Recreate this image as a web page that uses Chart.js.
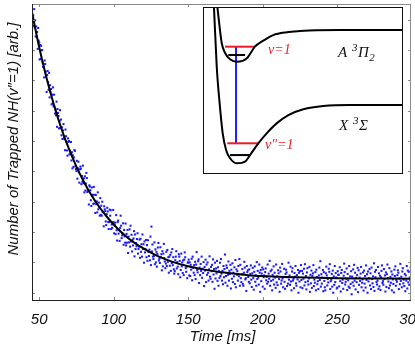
<!DOCTYPE html>
<html><head><meta charset="utf-8">
<script src="https://cdn.jsdelivr.net/npm/chart.js@4.4.1/dist/chart.umd.min.js"></script>
<style>
html,body{margin:0;padding:0;background:#fff;}
#wrap{position:relative;width:415px;height:348px;overflow:hidden;}
#main{position:absolute;left:0;top:0;}
#insetBox{position:absolute;left:203px;top:7px;width:200px;height:167px;border:1px solid #111;background:#fff;box-sizing:border-box;}
#inset{position:absolute;left:0;top:0;}
.lbl{position:absolute;font-family:"Liberation Serif",serif;font-style:italic;line-height:1;white-space:nowrap;}
.red{color:#e8202a;font-size:14px;}
.blk{color:#111;font-size:15px;letter-spacing:0.5px;}
.lbl sup,.lbl sub{font-size:11px;line-height:0;}
</style></head>
<body><div id="wrap">
<canvas id="main" width="415" height="348"></canvas>
<div id="insetBox"><canvas id="inset" width="198" height="165"></canvas></div>
<div class="lbl red" style="left:268px;top:43px;">v=1</div>
<div class="lbl red" style="left:265px;top:138px;">v″=1</div>
<div class="lbl blk" style="left:338px;top:45px;">A&nbsp;<sup>3</sup>Π<sub>2</sub></div>
<div class="lbl blk" style="left:339px;top:118px;">X&nbsp;<sup>3</sup>Σ</div>
</div>
<script>
// ---- data ----
const xTickValues = [50, 100, 150, 200, 250, 300];
const yTickValues = [0, 1, 2, 3, 4, 5, 6, 7, 8, 9];
const samplesPerMs = 3;
const windowStartMs = [46, 101, 151, 201, 251];
const trappedEarly = [9.14,8.80,9.35, 8.74,8.98,8.45, 8.78,8.43,8.60, 8.04,8.73,8.31, 8.25,7.69,8.17, 7.71,8.14,8.00, 8.00,7.59,7.45, 7.44,7.10,7.66, 7.54,7.29,7.12, 6.62,7.18,7.31, 6.94,6.69,7.25, 6.44,6.84,6.61, 6.72,6.21,6.53, 6.24,6.77,6.15, 6.53,6.13,5.91, 6.03,5.85,6.30, 5.47,6.06,5.93, 5.83,5.42,5.66, 6.02,5.43,5.71, 5.19,5.45,5.07, 5.35,5.56,5.11, 5.06,4.70,5.38, 5.16,4.98,4.69, 4.52,5.09,4.97, 5.00,4.56,4.68, 4.59,4.97,4.36, 4.63,4.10,4.53, 4.15,4.46,4.70, 4.68,4.17,4.08, 4.01,4.35,3.76, 4.10,4.32,3.97, 3.63,4.07,4.16, 4.09,3.58,3.85, 3.66,4.19,3.61, 3.77,3.31,3.84, 3.37,3.60,3.95, 3.78,3.32,3.37, 3.35,2.91,3.54, 3.50,3.38,3.05, 2.86,3.47,3.19, 3.23,2.93,3.49, 2.94,3.23,2.63, 3.22,2.92,3.01, 2.65,3.31,2.75, 2.97,2.82,2.54, 3.12,2.57,2.87, 2.54,3.00,2.67, 2.66,2.19,2.85, 2.75,2.69,2.35, 2.23,2.59,2.80, 2.68,2.33,2.10, 2.33,2.74,2.54, 2.72,2.10,2.25, 2.14,2.32,2.73, 2.32,1.96,2.24];
const trappedMid = [2.31,1.93,2.56, 2.06,1.72,2.33, 2.38,1.95,2.06, 1.71,2.14,2.54, 2.21,1.80,1.89, 1.95,2.29,1.58, 2.07,1.86,1.65, 2.28,1.56,1.94, 1.65,2.07,1.31, 1.85,1.66,2.09, 1.52,2.21,1.69, 1.91,1.36,1.74, 1.56,1.79,2.03, 1.20,1.92,1.44, 1.64,1.53,1.77, 1.96,1.29,1.44, 1.52,1.75,1.15, 1.78,1.35,1.60, 1.19,1.92,1.44, 1.60,0.99,1.69, 1.33,1.44,1.74, 1.17,1.57,1.05, 1.73,1.35,1.21, 1.42,1.07,1.85, 0.91,2.18,1.36, 1.59,1.19,1.11, 1.21,1.66,0.94, 1.43,1.00,1.35, 0.86,1.28,1.49, 1.64,1.06,1.12, 0.98,1.50,1.17, 1.27,0.74,1.37, 0.87,1.29,1.61, 1.14,1.03,0.81, 0.96,1.35,0.88, 1.41,1.02,1.17, 0.66,1.19,0.89, 1.25,0.72,1.33, 0.98,1.44,0.91, 1.17,0.77,0.63, 0.71,1.07,1.19, 1.37,0.80,1.01, 0.86,0.61,1.27, 1.19,1.05,0.51, 0.75,1.29,0.87, 1.00,0.65,1.07, 0.58,1.09,1.33, 1.17,0.81,0.69, 0.86,0.48,0.99, 1.00,1.09,0.57];
const trappedLate = [1.00,.55,.92, .76,1.12,.41, 1.19,.82,.66, .91,.58,1.02, .45,.93,1.34, .75,.67,1.04, 1.10,.32,.83, .58,.95,.72, 1.19,.49,.79, .65,1.01,.22, .85,.73,1.09, .35,.93,.59, 1.00,.66,.40, .77,1.20,.53, .46,.85,.71, .92,.36,1.10, .60,.78,.13, .99,.47,.80, .64,1.05,.39, .84,.23,.71, .49,.99,.55, 1.11,.63,.40, .72,.28,.88, .51,.78,1.26, .33,.55,.90, .82,.23,.59, 1.03,.40,.72, .62,.92,.14, .76,.46,.97, .35,.66,.54, .84,.29,1.08, .18,.77,.59, .71,.40,.88, .54,1.11,.23, .92,.48,.35, .61,.78,.29, .23,.66,1.02, .83,.44,.48, .06,.88,.68, .74,.52,.36, .77,.31,.62, .90,.43,.19, .64,.82,.48, .10,.69,.87, .36,.58,.23, 1.01,.45,.72, .50,.27,.93, .66,.03,.75, .38,.63,.83, .20,.77,.51];
const trappedPlateau = [.57,.13,.68, .80,.41,.52, .30,.93,.36, .63,.46,1.05, .23,.71,.39, .76,.08,.59, .43,.87,.27, .66,.50,.16, .93,.34,.54, .25,.74,.64, .45,.03,.83, .70,.30,.40, .95,.47,.18, .52,.79,.36, .13,.62,.76, .67,.22,.51, .30,.99,.43, .57,.26,.86, .37,.08,.70, .81,.40,.46, .15,.65,.53, .88,.31,.23, .58,.44,.75, .00,.66,.37, .71,.18,.91, .42,.72,.15, .63,.46,.79, .24,.94,.35, .55,.11,.67, .81,.38,.27, .47,.85,.03, .59,.31,.73, .16,.56,.64, .91,.22,.43, .33,.68,.08, .76,.52,.28, .38,.12,.57, .83,.42,1.04, .20,.61,.30, .50,.75,.05, .68,.39,.18, .08,.64,.86, .57,.24,.45, .34,.79,.69, .94,.12,.38, .43,.62,.20, .73,.00,.54, .26,.88,.35, .65,.50,.14, .17,.71,.59];
const trappedTail = [.59,.21,.84, .38,.04,.65, .75,.32,.43, .13,.56,.96, .68,.27,.36, .46,.80,.09, .62,.41,.20, .88,.16,.54, .29,.71,-.05, .53,.34,.77, .23,.92,.40, .66,.11,.49, .35,.58,.82, .02,.74,.26, .50,.39,.63, .85,.18,.33, .44,.67,.07, .73,.30,.55, .17,.90,.42, .61,.00,.70, .37,.48,.78, .24,.64,.12, .83,.45,.31, .54,.19,.97, .06,.69,.51, .75,.35,.27, .40,.85,.13, .64,.21,.56, .09,.51,.72, .90,.32,.38, .26,.78,.45, .57,.04,.67, .19,.61,.93, .48,.37,.15, .81,.24,.52, .33,.70,.08, .60,.44,.29, .01,.76,.55, .87,.23,.42, .36,.58,.74, .66,.12,.47, .28,.95,.39, .53,.18,.70, .81,.31,.43, .22,.62,.05, .57,.40,.88, .14,.73,.34, .69,.26,.50, .41,.84,.11, .63,.30,.58];
const fitTimesMs = [45.2, 50, 55, 60, 65, 70, 75, 80, 85, 90, 95, 100, 105, 110, 115, 120, 125, 130, 140, 150, 160, 170, 180, 190, 200, 215, 230, 250, 275, 300];
const fitCounts = [9.25, 8.10, 7.07, 6.18, 5.40, 4.74, 4.16, 3.66, 3.22, 2.85, 2.53, 2.25, 2.00, 1.79, 1.61, 1.46, 1.32, 1.20, 1.01, 0.87, 0.77, 0.69, 0.63, 0.58, 0.55, 0.52, 0.50, 0.48, 0.47, 0.46];

// inset: potential energy curves (arbitrary units)
const upperR = [0.72, 0.94, 1.11, 1.36, 1.72, 2.20, 2.61, 3.03, 3.53, 4.21, 4.87, 5.71, 6.88, 10.0];
const upperE = [10.02, 7.83, 7.23, 6.85, 6.70, 6.91, 7.61, 7.97, 8.31, 8.48, 8.55, 8.60, 8.61, 8.61];
const lowerR = [0.55, 0.69, 0.82, 0.99, 1.16, 1.36, 1.72, 2.11, 2.36, 2.78, 3.20, 3.70, 4.29, 5.04, 6.05, 7.39, 10.0];
const lowerE = [10.02, 6.40, 4.40, 2.39, 1.39, 0.89, 0.58, 0.68, 1.08, 1.79, 2.39, 2.99, 3.49, 3.84, 4.04, 4.10, 4.10];
const upperV1 = {r: [1.11, 2.61], e: 7.61};
const upperV0 = {r: [1.27, 2.11], e: 7.11};
const lowerV1 = {r: [1.22, 2.78], e: 1.79};
const lowerV0 = {r: [1.36, 2.36], e: 1.08};
const transitionR = 1.66;

// ---- build ----
const trappedWindows = [trappedEarly, trappedMid, trappedLate, trappedPlateau, trappedTail];
const scatterPts = [];
trappedWindows.forEach((arr, w) => {
  arr.forEach((v, i) => {
    scatterPts.push({x: windowStartMs[w] + Math.floor(i / samplesPerMs) + (i % samplesPerMs) / samplesPerMs, y: v});
  });
});
const fitPts = fitTimesMs.map((t, i) => ({x: t, y: fitCounts[i]}));

const FONT = '"Liberation Sans", Arial, sans-serif';
const framePlugin = {
  id: 'frame',
  afterDraw(chart) {
    const {ctx, chartArea: a, scales: {x, y}} = chart;
    ctx.save();
    ctx.lineWidth = 1;
    const seg = (x1, y1, x2, y2) => { ctx.beginPath(); ctx.moveTo(x1, y1); ctx.lineTo(x2, y2); ctx.stroke(); };
    ctx.strokeStyle = '#8a8a8a';
    xTickValues.forEach(v => {
      const px = Math.round(x.getPixelForValue(v)) + 0.5;
      if (px > a.right) return;
      seg(px, a.bottom, px, a.bottom - 3);
      seg(px, a.top, px, a.top + 3);
    });
    yTickValues.forEach(v => {
      const py = Math.round(y.getPixelForValue(v)) + 0.5;
      seg(a.left, py, a.left + 3, py);
      seg(a.right, py, a.right - 3, py);
    });
    ctx.strokeStyle = '#8a8a8a';
    seg(a.left, a.top + 0.5, a.right, a.top + 0.5);
    seg(a.right - 0.5, a.top, a.right - 0.5, a.bottom);
    ctx.strokeStyle = '#222';
    seg(a.left + 0.5, a.top, a.left + 0.5, a.bottom + 1);
    seg(a.left, a.bottom + 0.5, a.right, a.bottom + 0.5);
    // axis titles
    ctx.fillStyle = '#111';
    ctx.font = 'italic 15px ' + FONT;
    ctx.textAlign = 'center';
    ctx.textBaseline = 'middle';
    ctx.fillText('Time [ms]', (a.left + a.right) / 2 + 1, 337);
    ctx.translate(14, 139);
    ctx.rotate(-Math.PI / 2);
    ctx.fillText('Number of Trapped NH(v″=1) [arb.]', 0, 0);
    ctx.restore();
  }
};

new Chart(document.getElementById('main'), {
  type: 'scatter',
  data: {
    datasets: [
      {data: fitPts, showLine: true, borderColor: '#000', borderWidth: 2, pointRadius: 0, cubicInterpolationMode: 'monotone', order: 0},
      {data: scatterPts, pointStyle: 'rect', pointRadius: 1.45, pointBackgroundColor: '#1a1aff', pointBorderWidth: 0, backgroundColor: '#1a1aff', borderWidth: 0, order: 1}
    ]
  },
  options: {
    responsive: false, animation: false, devicePixelRatio: 1,
    layout: {padding: {left: 0, right: 2, top: 0, bottom: 0}},
    plugins: {legend: {display: false}, tooltip: {enabled: false}},
    scales: {
      x: {
        type: 'linear', min: 45.2, max: 299.5,
        grid: {display: false}, border: {display: false},
        afterBuildTicks: s => { s.ticks = xTickValues.map(v => ({value: v})); },
        afterFit: s => { s.height = 48; s.paddingLeft = 0; s.paddingRight = 0; s.paddingTop = 0; s.paddingBottom = 0; },
        ticks: {autoSkip: false, maxRotation: 0, padding: 3, color: '#111', font: {family: FONT, style: 'italic', size: 15}}
      },
      y: {
        type: 'linear', min: -0.24, max: 9.52,
        grid: {display: false}, border: {display: false},
        afterBuildTicks: s => { s.ticks = yTickValues.map(v => ({value: v})); },
        afterFit: s => { s.width = 32; s.paddingTop = 0; s.paddingBottom = 0; s.paddingLeft = 0; s.paddingRight = 0; },
        ticks: {display: false}
      }
    }
  },
  plugins: [framePlugin]
});

const pts = (rs, es) => rs.map((r, i) => ({x: r, y: es[i]}));
const level = (lv, color) => ({data: [{x: lv.r[0], y: lv.e}, {x: lv.r[1], y: lv.e}], showLine: true, borderColor: color, borderWidth: 2, pointRadius: 0});
new Chart(document.getElementById('inset'), {
  type: 'scatter',
  data: {
    datasets: [
      {data: pts(upperR, upperE), showLine: true, borderColor: '#000', borderWidth: 2, pointRadius: 0, cubicInterpolationMode: 'monotone'},
      {data: pts(lowerR, lowerE), showLine: true, borderColor: '#000', borderWidth: 2, pointRadius: 0, cubicInterpolationMode: 'monotone'},
      level(upperV1, '#ee1c25'),
      level(upperV0, '#000'),
      level(lowerV1, '#ee1c25'),
      level(lowerV0, '#000'),
      {data: [{x: transitionR, y: lowerV1.e}, {x: transitionR, y: upperV1.e}], showLine: true, borderColor: '#1c1cff', borderWidth: 2, pointRadius: 0}
    ]
  },
  options: {
    responsive: false, animation: false, devicePixelRatio: 1,
    layout: {padding: 0},
    plugins: {legend: {display: false}, tooltip: {enabled: false}},
    scales: {
      x: {type: 'linear', min: 0.05, max: 10, display: false},
      y: {type: 'linear', min: 0, max: 9.94, display: false}
    }
  }
});
</script>
</body></html>
